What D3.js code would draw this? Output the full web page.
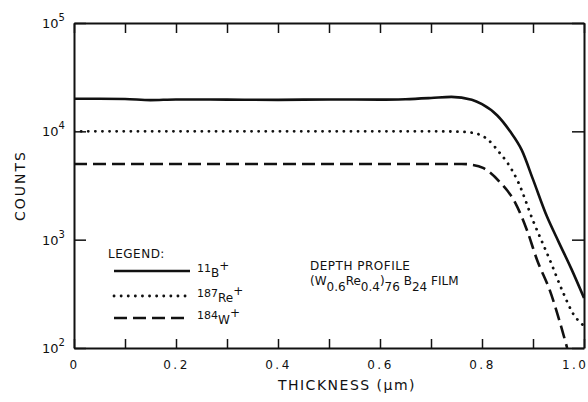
<!DOCTYPE html>
<html>
<head>
<meta charset="utf-8">
<script src="https://cdn.jsdelivr.net/npm/d3@7"></script>
<style>
  body { margin: 0; background: #fff; }
  text { font-family: "DejaVu Sans", sans-serif; fill: #111; }
</style>
</head>
<body>
<div id="chart"></div>
<script>
// Values
const xTicks = [0, 0.1, 0.2, 0.3, 0.4, 0.5, 0.6, 0.7, 0.8, 0.9, 1.0];
const yTicks = [1e2, 1e3, 1e4, 1e5];
const yTickExp = ["2", "3", "4", "5"];

// 11B+ (solid)
const boronX = [0, 0.05, 0.1, 0.15, 0.2, 0.3, 0.4, 0.5, 0.6, 0.65, 0.7, 0.74, 0.78, 0.8, 0.83, 0.855, 0.878, 0.9, 0.927, 0.95, 0.975, 1.0];
const boronY = [20000, 20000, 19900, 19400, 19700, 19600, 19500, 19700, 19600, 19800, 20300, 20800, 19600, 17800, 14000, 10000, 6700, 3600, 1650, 960, 540, 290];

// 187Re+ (dotted)
const rheniumX = [0, 0.1, 0.2, 0.3, 0.4, 0.5, 0.6, 0.7, 0.76, 0.79, 0.81, 0.835, 0.849, 0.871, 0.9, 0.933, 0.959, 0.978, 1.0];
const rheniumY = [10000, 10000, 10000, 10000, 10000, 10000, 10000, 10000, 9900, 9500, 8500, 6300, 5200, 3400, 1500, 650, 325, 210, 160];

// 184W+ (dashed)
const tungstenX = [0, 0.1, 0.2, 0.3, 0.4, 0.5, 0.6, 0.7, 0.76, 0.782, 0.802, 0.835, 0.865, 0.888, 0.908, 0.933, 0.967];
const tungstenY = [5000, 5000, 5000, 5000, 5000, 5000, 5000, 5000, 5000, 4900, 4600, 3400, 2200, 1230, 650, 340, 100];

const svgWidth = 588;
const svgHeight = 402;
const margin = { top: 23, right: 4, bottom: 54, left: 74 };

const svg = d3.select("#chart")
  .append("svg")
  .attr("width", svgWidth)
  .attr("height", svgHeight);

// Scales
const x = d3.scaleLinear()
  .domain([0, 1])
  .range([margin.left, svgWidth - margin.right]);

const y = d3.scaleLog()
  .domain([1e2, 1e5])
  .range([svgHeight - margin.bottom, margin.top]);

const plotBottom = svgHeight - margin.bottom;
const plotRight = svgWidth - margin.right;

// Axes, ticks pointing inward
function styleAxis(g) {
  g.select(".domain").attr("stroke", "#111").attr("stroke-width", 2);
  g.selectAll(".tick line").attr("stroke", "#111").attr("stroke-width", 1.5);
}

const bottomAxis = svg.append("g")
  .attr("transform", `translate(0, ${plotBottom})`)
  .call(d3.axisBottom(x)
    .tickValues(xTicks)
    .tickSize(-9)
    .tickSizeOuter(0)
    .tickPadding(12)
    .tickFormat((d, i) => i % 2 === 0 ? (d === 0 ? "0" : d.toFixed(1)) : ""))
  .call(styleAxis);

bottomAxis.selectAll("text")
  .style("font-size", "12px")
  .style("letter-spacing", "2.5px");
// keep "1.0" inside the frame
bottomAxis.selectAll(".tick:last-of-type text")
  .attr("text-anchor", "end")
  .attr("dx", 4);

svg.append("g")
  .attr("transform", `translate(0, ${margin.top})`)
  .call(d3.axisTop(x).tickValues(xTicks).tickSize(-10).tickSizeOuter(0).tickFormat(""))
  .call(styleAxis);

svg.append("g")
  .attr("transform", `translate(${margin.left}, 0)`)
  .call(d3.axisLeft(y).tickValues(yTicks).tickSize(-12).tickSizeOuter(0).tickFormat(""))
  .call(styleAxis);

svg.append("g")
  .attr("transform", `translate(${plotRight}, 0)`)
  .call(d3.axisRight(y).tickValues(yTicks).tickSize(-12).tickSizeOuter(0).tickFormat(""))
  .call(styleAxis);

// Power-of-ten labels
const yLab = svg.append("g")
  .selectAll("text")
  .data(yTicks)
  .enter()
  .append("text")
  .attr("x", 42)
  .attr("y", d => y(d) + 5)
  .style("font-size", "13px");
yLab.append("tspan").text("10");
yLab.append("tspan")
  .attr("dy", -7)
  .style("font-size", "10px")
  .text((d, i) => yTickExp[i]);

// Axis titles
svg.append("text")
  .attr("transform", `translate(25, ${(margin.top + plotBottom) / 2}) rotate(-90)`)
  .style("text-anchor", "middle")
  .style("font-size", "14px")
  .style("letter-spacing", "2px")
  .text("COUNTS");

svg.append("text")
  .attr("x", (margin.left + plotRight) / 2 + 18)
  .attr("y", 390)
  .style("text-anchor", "middle")
  .style("font-size", "14px")
  .style("letter-spacing", "1.5px")
  .text("THICKNESS (\u03bcm)");

// Curves
svg.append("clipPath").attr("id", "plot-clip")
  .append("rect")
  .attr("x", margin.left)
  .attr("y", margin.top)
  .attr("width", plotRight - margin.left)
  .attr("height", plotBottom - margin.top);

const line = d3.line()
  .x(d => x(d[0]))
  .y(d => y(d[1]))
  .curve(d3.curveMonotoneX);

const series = [
  { xs: boronX, ys: boronY, dash: null, width: 2.6, cap: "butt" },
  { xs: rheniumX, ys: rheniumY, dash: "0.1 7", width: 2.8, cap: "round" },
  { xs: tungstenX, ys: tungstenY, dash: "13 6", width: 2.6, cap: "butt" }
];

svg.append("g")
  .attr("clip-path", "url(#plot-clip)")
  .selectAll("path")
  .data(series)
  .enter()
  .append("path")
  .attr("d", s => line(s.xs.map((v, i) => [v, s.ys[i]])))
  .attr("fill", "none")
  .attr("stroke", "#111")
  .attr("stroke-width", s => s.width)
  .attr("stroke-linecap", s => s.cap)
  .attr("stroke-dasharray", s => s.dash);

// Legend
svg.append("text")
  .attr("x", 108)
  .attr("y", 258)
  .style("font-size", "12px")
  .style("letter-spacing", "0.5px")
  .text("LEGEND:");

const legendRows = [
  { y: 271, mass: "11", el: "B", s: series[0] },
  { y: 296, mass: "187", el: "Re", s: series[1] },
  { y: 318, mass: "184", el: "W", s: series[2] }
];

const rows = svg.append("g")
  .selectAll("g")
  .data(legendRows)
  .enter()
  .append("g");

rows.append("line")
  .attr("x1", 114)
  .attr("x2", 190)
  .attr("y1", d => d.y)
  .attr("y2", d => d.y)
  .attr("stroke", "#111")
  .attr("stroke-width", d => d.s.width)
  .attr("stroke-linecap", d => d.s.cap)
  .attr("stroke-dasharray", d => d.s.dash);

const rowText = rows.append("text")
  .attr("x", 197)
  .attr("y", d => d.y + 1)
  .style("font-size", "11px");
rowText.append("tspan").text(d => d.mass);
rowText.append("tspan").attr("dy", 5).style("font-size", "12px").text(d => d.el);
rowText.append("tspan").attr("dy", -7).style("font-size", "12px").text("+");

// Film annotation
svg.append("text")
  .attr("x", 310)
  .attr("y", 270)
  .style("font-size", "12px")
  .style("letter-spacing", "0.5px")
  .text("DEPTH PROFILE");

const film = svg.append("text")
  .attr("x", 310)
  .attr("y", 285)
  .style("font-size", "12px");
film.append("tspan").text("(W");
film.append("tspan").attr("dy", 6).text("0.6");
film.append("tspan").attr("dy", -6).text("Re");
film.append("tspan").attr("dy", 6).text("0.4");
film.append("tspan").attr("dy", -6).text(")");
film.append("tspan").attr("dy", 6).text("76");
film.append("tspan").attr("dy", -6).text(" B");
film.append("tspan").attr("dy", 6).text("24");
film.append("tspan").attr("dy", -6).text(" FILM");
</script>
</body>
</html>
